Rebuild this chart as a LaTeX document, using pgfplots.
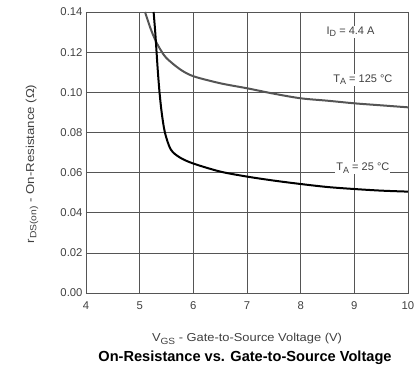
\documentclass[border=0pt]{standalone}
\usepackage{pgfplots}
\pgfplotsset{compat=1.18}
\usepackage{fontspec}
\setmainfont{Liberation Sans}
\definecolor{txt}{HTML}{404040}
\definecolor{gridc}{HTML}{555555}
\definecolor{hot}{HTML}{555555}
\newcommand\sub[1]{\raisebox{-0.4ex}{\fontsize{9}{10}\selectfont #1}}
\begin{document}
\begin{tikzpicture}[x=1pt,y=1pt]
\useasboundingbox (-86,-81) rectangle (330,293);
\begin{axis}[
  at={(0,0)}, anchor=south west,
  scale only axis, width=322pt, height=281pt,
  xmin=4, xmax=10, ymin=0, ymax=0.14,
  xtick={4,5,...,10},
  ytick={0,0.02,...,0.14},
  yticklabel style={/pgf/number format/.cd, fixed, fixed zerofill, precision=2},
  /pgf/number format/assume math mode=true,
  ticklabel style={font=\fontsize{11.3}{13}\selectfont, text=txt},
  xticklabel style={yshift=-5pt},
  grid=major,
  major grid style={gridc, line width=0.7pt},
  axis line style={gridc, line width=0.8pt},
  tick style={draw=none},
  clip=true,
]
\addplot[hot, line width=2pt, smooth] coordinates {
(5.10,0.140)(5.2,0.132)(5.3,0.1255)(5.4,0.1207)(5.5,0.117)(5.75,0.1115)(6,0.108)(6.5,0.1045)(7,0.102)(7.5,0.0993)(8,0.097)(8.5,0.0958)(9,0.0945)(9.5,0.0935)(10,0.0925)};
\addplot[black, line width=2pt, smooth] coordinates {
(5.26,0.14)(5.29,0.13)(5.315,0.12)(5.34,0.11)(5.37,0.10)(5.41,0.09)(5.47,0.08)(5.58,0.0715)(5.75,0.0675)(6,0.0645)(6.5,0.0605)(7,0.058)(7.5,0.056)(8,0.0543)(8.5,0.0528)(9,0.0518)(9.5,0.051)(10,0.0505)};
\node[fill=white, inner sep=1pt, text=txt, font=\fontsize{11}{13}\selectfont] at (axis cs:8.93,0.1302) {I\sub{D} = 4.4 A};
\node[fill=white, inner sep=1pt, text=txt, font=\fontsize{11}{13}\selectfont] at (axis cs:9.16,0.1062) {T\sub{A} = 125 °C};
\node[fill=white, inner sep=1pt, text=txt, font=\fontsize{11}{13}\selectfont] at (axis cs:9.16,0.0622) {T\sub{A} = 25 °C};
\end{axis}
\node[text=txt, font=\fontsize{11.5}{13}\selectfont] at (161,-46) {\scalebox{1.12}[1]{V\sub{GS} - Gate-to-Source Voltage (V)}};
\node[text=txt, rotate=90, font=\fontsize{11.5}{13}\selectfont] at (-54,129) {\scalebox{1.15}[1]{r\sub{DS(on)} - On-Resistance (Ω)}};
\node[font=\bfseries\fontsize{14.6}{16}\selectfont] at (159,-65) {On-Resistance vs. Gate-to-Source Voltage};
\end{tikzpicture}
\end{document}
